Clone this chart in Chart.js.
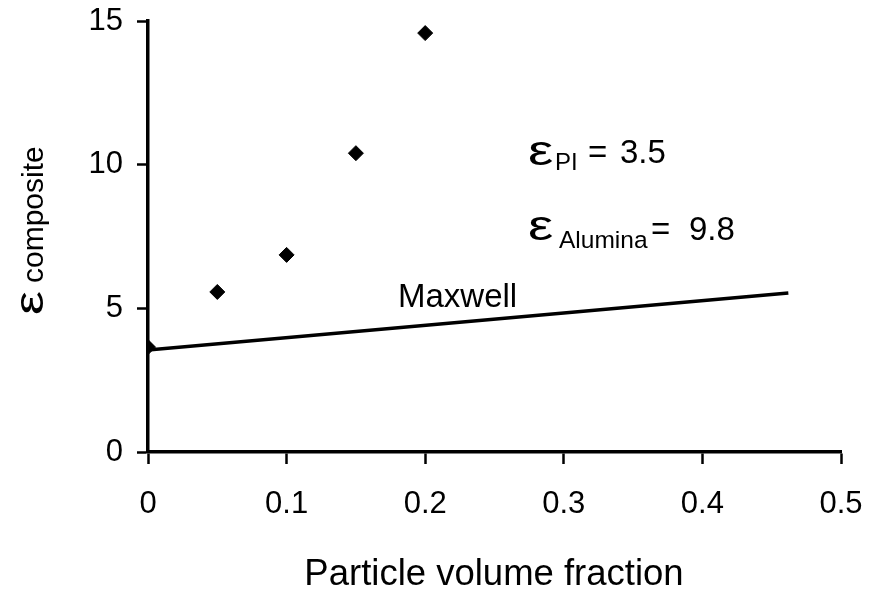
<!DOCTYPE html>
<html>
<head>
<meta charset="utf-8">
<script src="https://cdn.jsdelivr.net/npm/chart.js@4"></script>
<style>
  html, body { margin: 0; padding: 0; background: #fff; }
  #wrap { width: 871px; height: 598px; }
</style>
</head>
<body>
<div id="wrap"><canvas id="c" width="871" height="598"></canvas></div>
<script>
/* composite permittivity vs particle volume fraction */
const fractions = [0, 0.05, 0.1, 0.15, 0.2];
const measured = [3.65, 5.57, 6.86, 10.4, 14.58];
const maxwellX = [0, 0.462];
const maxwellY = [3.55, 5.53];
const xTicks = [0, 0.1, 0.2, 0.3, 0.4, 0.5];
const yTicks = [0, 5, 10, 15];

const FONT = "'Liberation Sans', Arial, sans-serif";

// wide epsilon, like the Symbol-font one in the original
function drawEps(ctx, x, y, size) {
  ctx.save();
  ctx.translate(x, y);
  ctx.scale(1.35, 1);
  ctx.font = `${size}px ${FONT}`;
  ctx.fillText("ε", 0, 0);
  ctx.restore();
}

// text drawn on top: subscripted epsilon labels and axis titles
const labels = {
  id: "labels",
  afterDraw(chart) {
    const ctx = chart.ctx;
    ctx.save();
    ctx.fillStyle = "#000";
    ctx.textBaseline = "alphabetic";
    ctx.textAlign = "left";

    drawEps(ctx, 528, 165, 42);
    ctx.font = `24px ${FONT}`;
    ctx.fillText("PI", 555, 170);
    ctx.font = `33px ${FONT}`;
    ctx.fillText("=", 588, 163);
    ctx.fillText("3.5", 620, 163);

    drawEps(ctx, 528, 240, 42);
    ctx.font = `24.5px ${FONT}`;
    ctx.fillText("Alumina", 559, 248);
    ctx.font = `33px ${FONT}`;
    ctx.fillText("=", 651, 240);
    ctx.fillText("9.8", 689, 240);

    ctx.font = `33px ${FONT}`;
    ctx.fillText("Maxwell", 398, 307);

    ctx.font = `36.5px ${FONT}`;
    ctx.textAlign = "center";
    ctx.fillText("Particle volume fraction", 494, 585);

    // rotated y title
    ctx.translate(43, 314);
    ctx.rotate(-Math.PI / 2);
    ctx.textAlign = "left";
    drawEps(ctx, -1, 0, 40);
    ctx.font = `30px ${FONT}`;
    ctx.fillText("composite", 31, 0);
    ctx.restore();
  },
};

new Chart(document.getElementById("c"), {
  type: "scatter",
  data: {
    datasets: [
      {
        label: "measured",
        data: fractions.map((x, i) => ({ x, y: measured[i] })),
        pointStyle: "rectRot",
        pointRadius: 7.5,
        backgroundColor: "#000",
        borderColor: "#000",
      },
      {
        label: "Maxwell",
        data: maxwellX.map((x, i) => ({ x, y: maxwellY[i] })),
        showLine: true,
        pointRadius: 0,
        borderColor: "#000",
        borderWidth: 3.5,
      },
    ],
  },
  options: {
    responsive: false,
    animation: false,
    layout: { padding: { left: 0, right: 30, top: 21, bottom: 0 } },
    plugins: { legend: { display: false }, tooltip: { enabled: false } },
    scales: {
      x: {
        type: "linear",
        min: 0,
        max: 0.5,
        afterBuildTicks: (s) => { s.ticks = xTicks.map((v) => ({ value: v })); },
        afterFit: (s) => { s.height = 146; s.paddingLeft = 0; s.paddingRight = 0; },
        border: { display: true, color: "#000", width: 3.5 },
        grid: { drawOnChartArea: false, drawTicks: true, tickLength: 12, tickColor: "#000", tickWidth: 2.5 },
        ticks: {
          color: "#000",
          font: { family: FONT, size: 31 },
          padding: 22,
          maxRotation: 0,
          callback: (v) => String(v),
        },
      },
      y: {
        min: 0,
        max: 15,
        afterBuildTicks: (s) => { s.ticks = yTicks.map((v) => ({ value: v })); },
        afterFit: (s) => { s.width = 148; s.paddingTop = 0; s.paddingBottom = 0; },
        border: { display: true, color: "#000", width: 3.5 },
        grid: { drawOnChartArea: false, drawTicks: true, tickLength: 11, tickColor: "#000", tickWidth: 2.5 },
        ticks: {
          color: "#000",
          font: { family: FONT, size: 31 },
          padding: 14,
        },
      },
    },
  },
  plugins: [labels],
});
</script>
</body>
</html>
